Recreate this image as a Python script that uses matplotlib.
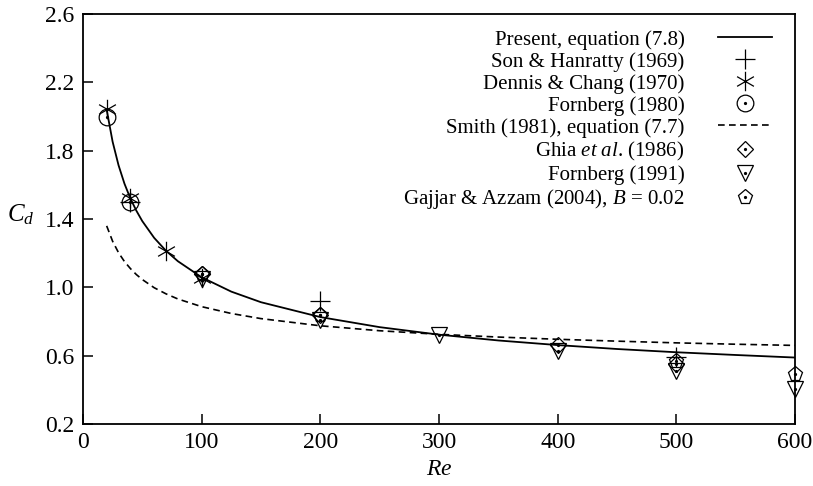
import matplotlib.pyplot as plt
from matplotlib.legend_handler import HandlerTuple
from matplotlib.path import Path

plt.rcParams['font.family'] = ['Liberation Serif', 'DejaVu Serif']
plt.rcParams['mathtext.fontset'] = 'custom'
plt.rcParams['mathtext.rm'] = 'Liberation Serif'
plt.rcParams['mathtext.it'] = 'Liberation Serif:italic'

# curves
re_curve = [20, 25, 30, 35, 40, 45, 50, 60, 70, 80, 100, 125, 150, 200,
            250, 300, 350, 400, 450, 500, 550, 600]
cd_present = [2.040, 1.853, 1.715, 1.607, 1.520, 1.449, 1.388, 1.290, 1.214,
              1.153, 1.059, 0.975, 0.913, 0.826, 0.767, 0.723, 0.689, 0.662,
              0.639, 0.620, 0.604, 0.589]
cd_smith = [1.360, 1.270, 1.203, 1.151, 1.110, 1.075, 1.046, 0.998, 0.962,
            0.932, 0.887, 0.847, 0.817, 0.775, 0.746, 0.725, 0.709, 0.696,
            0.685, 0.675, 0.667, 0.660]

# data points
son_re = [40, 200, 500]
son_cd = [1.50, 0.92, 0.59]
dennis_re = [20, 40, 70, 100]
dennis_cd = [2.045, 1.522, 1.212, 1.056]
forn80_re = [20, 40]
forn80_cd = [2.00, 1.498]
ghia_re = [100, 200, 400, 500]
ghia_cd = [1.08, 0.84, 0.66, 0.55]
forn91_re = [100, 200, 300, 400, 500, 600]
forn91_cd = [1.05, 0.81, 0.72, 0.63, 0.51, 0.405]
gajjar_re = [100, 200, 500, 600]
gajjar_cd = [1.08, 0.84, 0.57, 0.495]

# six-armed asterisk with a vertical arm
asterisk = Path([(0, -1), (0, 1), (-0.866, -0.5), (0.866, 0.5),
                 (-0.866, 0.5), (0.866, -0.5)],
                [Path.MOVETO, Path.LINETO] * 3)


def dotted_marker(ax, x, y, marker, size):
    h1, = ax.plot(x, y, linestyle='none', marker=marker, markersize=size,
                  markerfacecolor='none', markeredgecolor='black',
                  markeredgewidth=0.9, clip_on=False)
    h2, = ax.plot(x, y, linestyle='none', marker='o', markersize=1.3,
                  color='black', clip_on=False)
    return (h1, h2)


fig = plt.figure(figsize=(8.13, 4.86), dpi=100)
ax = fig.add_axes([0.102, 0.1276, 0.876, 0.8434])

h_present, = ax.plot(re_curve, cd_present, color='black', linewidth=1.3)
h_son, = ax.plot(son_re, son_cd, linestyle='none', marker='+', markersize=15,
                 color='black', markeredgewidth=0.9, clip_on=False)
h_dennis, = ax.plot(dennis_re, dennis_cd, linestyle='none', marker=asterisk,
                    markersize=14, markerfacecolor='none',
                    markeredgecolor='black', markeredgewidth=0.9,
                    clip_on=False)
h_forn80 = dotted_marker(ax, forn80_re, forn80_cd, 'o', 12)
h_smith, = ax.plot(re_curve, cd_smith, color='black', linewidth=1.2,
                   dashes=(4, 2.6))
h_ghia = dotted_marker(ax, ghia_re, ghia_cd, 'D', 8.5)
h_forn91 = dotted_marker(ax, forn91_re, forn91_cd, 'v', 11)
h_gajjar = dotted_marker(ax, gajjar_re, gajjar_cd, 'p', 11)

handles = [h_present, h_son, h_dennis, h_forn80, h_smith, h_ghia, h_forn91,
           h_gajjar]
labels = ['Present, equation (7.8)', 'Son & Hanratty (1969)',
          'Dennis & Chang (1970)', 'Fornberg (1980)',
          'Smith (1981), equation (7.7)', r'Ghia $et\ al$. (1986)',
          'Fornberg (1991)', r'Gajjar & Azzam (2004), $B$ = 0.02']
ax.legend(handles, labels, loc='upper right', bbox_to_anchor=(0.988, 0.997),
          frameon=False, markerfirst=False, fontsize=15, labelspacing=0.11,
          handlelength=2.6, handletextpad=1.6, borderpad=0.2,
          handler_map={tuple: HandlerTuple(ndivide=1, pad=0)})

ax.set_xlim(0, 600)
ax.set_ylim(0.2, 2.6)
ax.set_xticks([0, 100, 200, 300, 400, 500, 600])
ax.set_yticks([0.2, 0.6, 1.0, 1.4, 1.8, 2.2, 2.6])
ax.set_yticklabels(['0.2', '0.6', '1.0', '1.4', '1.8', '2.2', '2.6'])
ax.tick_params(direction='in', length=7, width=1.1, labelsize=17,
               top=False, right=False, pad=6)
for s in ax.spines.values():
    s.set_linewidth(1.3)

ax.set_xlabel('$Re$', fontsize=17, labelpad=4)
ax.set_ylabel('$C_d$', fontsize=18, rotation=0, labelpad=4)
ax.yaxis.set_label_coords(-0.088, 0.48)

fig.savefig('out.png', dpi=100)
